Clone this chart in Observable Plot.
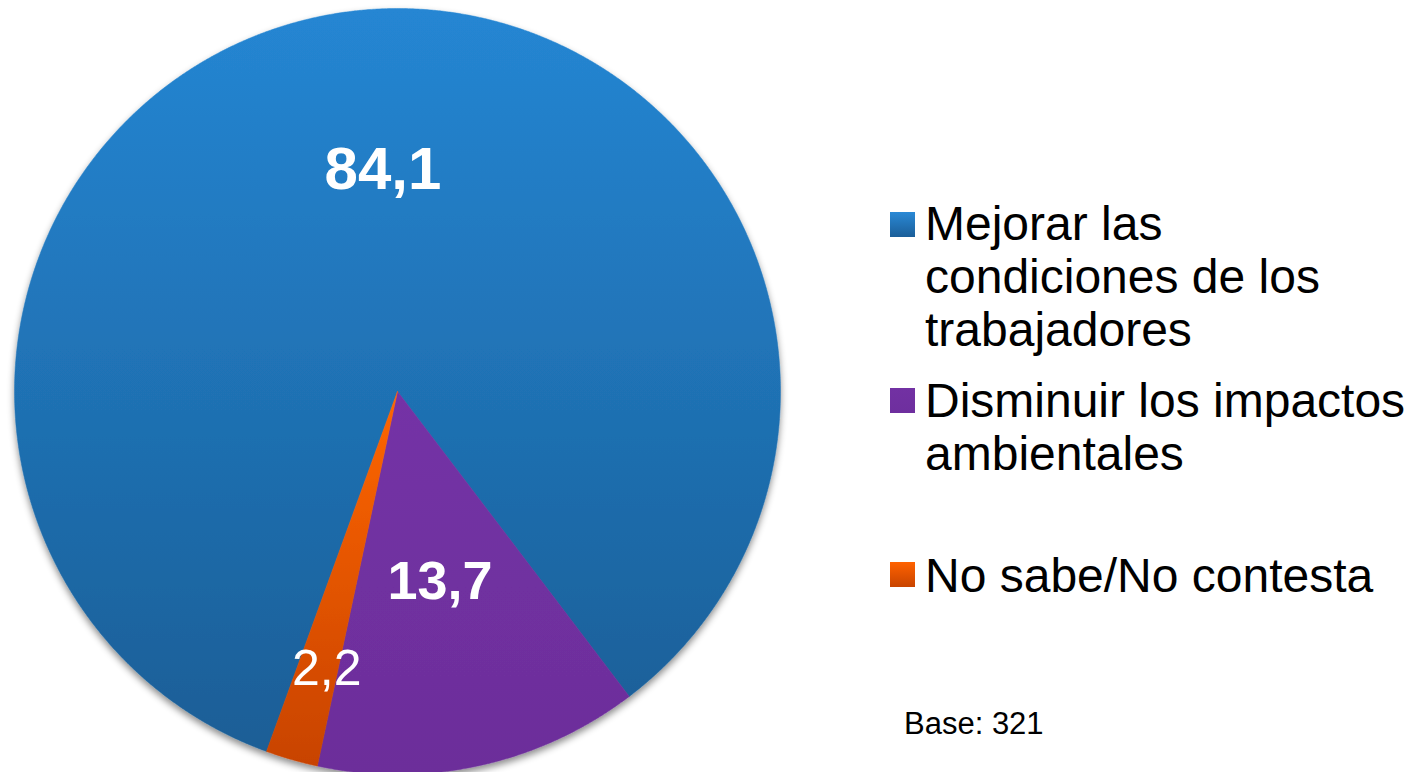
<!DOCTYPE html>
<html>
<head>
<meta charset="utf-8">
<script src="https://cdn.jsdelivr.net/npm/d3@7"></script>
<script src="https://cdn.jsdelivr.net/npm/@observablehq/plot@0.6"></script>
<style>
  html, body { margin: 0; padding: 0; background: #ffffff; }
  body { font-family: "Liberation Sans", Arial, sans-serif; }
  #wrap { position: relative; width: 1419px; height: 772px; overflow: hidden; }
  #wrap svg { position: absolute; left: 0; top: 0; }
  .item { position: absolute; left: 925px; font-size: 48px; line-height: 53px; color: #000; white-space: nowrap; }
  .sw { position: absolute; left: 890px; width: 25px; height: 25px; }
  .base { position: absolute; left: 904px; top: 707px; font-size: 31px; line-height: 34px; color: #000; }
</style>
</head>
<body>
<div id="wrap"></div>
<script>
// ---- data ----
const categories = ["Mejorar las condiciones de los trabajadores", "Disminuir los impactos ambientales", "No sabe/No contesta"];
const values = [84.1, 13.7, 2.2];
const legendLines = [["Mejorar las", "condiciones de los", "trabajadores"], ["Disminuir los impactos", "ambientales"], ["No sabe/No contesta"]];
const baseNote = "Base: 321";

// ---- styling ----
const gradStops = [["#2586d3", "#1a5e96"], ["#7432a6", "#6c2e9a"], ["#ff6606", "#c84300"]];
const swatchStops = [["#2a89d6", "#1b5e98"], ["#7231a3", "#6e2f9e"], ["#ff6200", "#c84400"]];
const startAngle = 200;           // degrees clockwise from top
const labelRadius = [0.585, 0.51, 0.754];
const labelNudge = [19, 0, 9];
const labelSize = [60, 54, 50];
const labelWeight = ["bold", "bold", "normal"];
const legendTops = [197, 374, 549];
const swatchTops = [212, 388, 562];

const fmt = v => d3.format(".1f")(v).replace(".", ",");
const total = d3.sum(values);

// build slice polygons
let acc = startAngle;
const slices = categories.map((c, i) => {
  const a0 = acc, a1 = acc + values[i] / total * 360;
  acc = a1;
  const pts = [{x: 0, y: 0}];
  const n = Math.max(2, Math.ceil((a1 - a0) / 0.25));
  for (let k = 0; k <= n; k++) {
    const a = (a0 + (a1 - a0) * k / n) * Math.PI / 180;
    pts.push({x: Math.sin(a), y: Math.cos(a)});
  }
  pts.push({x: 0, y: 0});
  const mid = ((a0 + a1) / 2) * Math.PI / 180;
  const label = {x: Math.sin(mid) * labelRadius[i], y: Math.cos(mid) * labelRadius[i], text: fmt(values[i])};
  return {category: c, pts, label, i};
});

const marks = [];
slices.forEach(s => {
  marks.push(Plot.line(s.pts, {x: "x", y: "y", fill: `url(#grad${s.i})`, stroke: `url(#grad${s.i})`, strokeWidth: 0.5, curve: "linear"}));
});
slices.forEach(s => {
  marks.push(Plot.text([s.label], {
    x: "x", y: "y", text: "text", fill: "white",
    fontSize: labelSize[s.i], fontWeight: labelWeight[s.i],
    fontFamily: "Liberation Sans, Arial, sans-serif",
    textAnchor: "middle", lineAnchor: "middle", dx: labelNudge[s.i]
  }));
});

const svg = Plot.plot({
  width: 1419,
  height: 772,
  margin: 0,
  x: {domain: [-1, 1], range: [14, 780], axis: null},
  y: {domain: [-1, 1], range: [774, 8], axis: null},
  marks
});

// defs: gradients + shadow
const sel = d3.select(svg);
const defs = sel.insert("defs", ":first-child");
gradStops.forEach((st, i) => {
  const g = defs.append("linearGradient").attr("id", `grad${i}`).attr("x1", 0).attr("y1", 0).attr("x2", 0).attr("y2", 1);
  g.append("stop").attr("offset", "0%").attr("stop-color", st[0]);
  g.append("stop").attr("offset", "100%").attr("stop-color", st[1]);
});
const f = defs.append("filter").attr("id", "shadow").attr("x", "-10%").attr("y", "-10%").attr("width", "120%").attr("height", "120%");
f.append("feDropShadow").attr("dx", 0).attr("dy", 4).attr("stdDeviation", 3.5).attr("flood-color", "#000").attr("flood-opacity", 0.45);

// group the pie slices under one shadowed group
const lineGroups = svg.querySelectorAll('g[aria-label="line"]');
if (lineGroups.length) {
  const wrapG = document.createElementNS("http://www.w3.org/2000/svg", "g");
  wrapG.setAttribute("filter", "url(#shadow)");
  lineGroups[0].parentNode.insertBefore(wrapG, lineGroups[0]);
  lineGroups.forEach(g => wrapG.appendChild(g));
}

const wrap = document.getElementById("wrap");
wrap.appendChild(svg);

// legend
legendLines.forEach((lines, i) => {
  const sw = document.createElement("div");
  sw.className = "sw";
  sw.style.top = swatchTops[i] + "px";
  sw.style.background = `linear-gradient(${swatchStops[i][0]}, ${swatchStops[i][1]})`;
  wrap.appendChild(sw);
  const t = document.createElement("div");
  t.className = "item";
  t.style.top = legendTops[i] + "px";
  t.innerHTML = lines.map(l => l.replace(/&/g, "&amp;").replace(/</g, "&lt;")).join("<br>");
  wrap.appendChild(t);
});
const b = document.createElement("div");
b.className = "base";
b.textContent = baseNote;
wrap.appendChild(b);
</script>
</body>
</html>
